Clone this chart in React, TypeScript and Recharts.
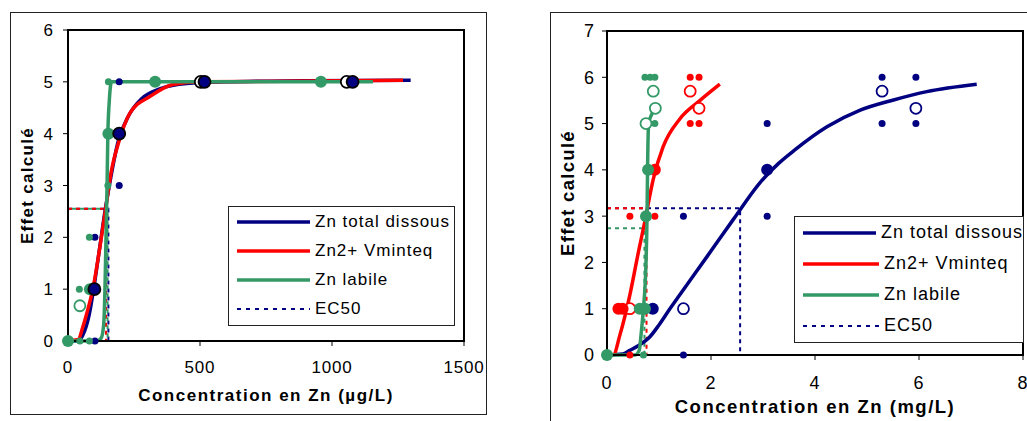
import * as React from 'react';
import {
  ComposedChart,
  XAxis,
  YAxis,
  Line,
  Scatter,
  Legend,
  ReferenceArea,
} from 'recharts';

const FONT = '"Liberation Sans", Arial, sans-serif';
const NAVY = '#000080';
const RED = '#ff0000';
const GREEN = '#339966';

type P = { x: number; y: number };
const pts = (a: number[][]): P[] => a.map(([x, y]) => ({ x, y }));

// ---- left panel (µg/L) ----
const leftXTicks = [0, 500, 1000, 1500];
const leftYTicks = [0, 1, 2, 3, 4, 5, 6];

const leftTotalCurve = pts([[0, 0], [40, 0], [55, 0.1], [80, 0.5], [100, 1.1], [120, 1.8], [140, 2.5], [160, 3.1], [190, 3.85], [230, 4.35], [280, 4.68], [350, 4.87], [450, 4.97], [600, 5.0], [900, 5.02], [1298, 5.03]]);
const leftVminteqCurve = pts([[0, 0], [39, 0.03], [55, 0.25], [71, 0.53], [96, 1.05], [121, 1.82], [140, 2.46], [165, 3.3], [190, 3.8], [235, 4.4], [311, 4.72], [398, 4.95], [500, 5.0], [1269, 5.03]]);
const leftLabileCurve = pts([[0, 0], [108, 0], [125, 0.05], [135, 0.3], [140, 1.0], [144, 2.0], [148, 3.0], [151, 4.0], [156, 4.6], [165, 5.0], [300, 5.0], [700, 5.0], [1155, 5.0]]);

const leftTotalSmall = pts([[194, 5], [194, 3], [102, 2], [102, 0]]);
const leftTotalLarge = pts([[194, 4], [100, 1], [517, 5], [1078, 5]]);
const leftTotalOpen = pts([[503, 5], [1056, 5]]);
const leftLabileSmall = pts([[153, 5], [81, 2], [43, 1], [45, 0], [81, 0], [151, 3]]);
const leftLabileLarge = pts([[330, 5], [153, 4], [83, 1], [958, 5], [0, 0]]);
const leftLabileOpen = pts([[45, 0.68]]);

const leftEc50Total = pts([[0, 2.55], [153, 2.55], [153, 0]]);
const leftEc50Vminteq = pts([[0, 2.55], [144, 2.55], [144, 0]]);
const leftEc50Labile = pts([[0, 2.55], [150, 2.55], [150, 0]]);

// ---- right panel (mg/L) ----
const rightXTicks = [0, 2, 4, 6, 8];
const rightYTicks = [0, 1, 2, 3, 4, 5, 6, 7];

const rightTotalCurve = pts([[0, 0], [0.3, 0.02], [0.44, 0.1], [0.6, 0.2], [0.83, 0.4], [1.0, 0.65], [1.21, 1.0], [1.5, 1.46], [1.92, 2.12], [2.43, 2.93], [2.94, 3.72], [3.3, 4.14], [3.6, 4.42], [4.23, 4.93], [4.87, 5.29], [5.51, 5.51], [6.15, 5.69], [7.11, 5.85]]);
const rightVminteqCurve = pts([[0, 0], [0.12, 0], [0.25, 0.44], [0.44, 1.3], [0.6, 2.2], [0.73, 2.9], [0.89, 3.8], [1.08, 4.5], [1.4, 5.1], [1.79, 5.5], [2.17, 5.85]]);
const rightLabileCurve = pts([[0, 0], [0.54, 0], [0.62, 0.1], [0.66, 0.5], [0.7, 1.0], [0.75, 2.0], [0.77, 3.0], [0.78, 4.0], [0.8, 5.0], [0.86, 5.2], [0.92, 5.35]]);

const rightTotalSmall = pts([[1.47, 0], [1.47, 3], [3.08, 5], [3.08, 3], [5.29, 6], [5.29, 5], [5.94, 6], [5.94, 5]]);
const rightTotalLarge = pts([[0.88, 1], [3.08, 4]]);
const rightTotalOpen = pts([[1.47, 1], [5.29, 5.7], [5.94, 5.33]]);
const rightVminteqSmall = pts([[0.44, 3], [0.92, 3], [1.6, 6], [1.77, 6], [1.6, 5], [1.77, 5], [0.44, 0]]);
const rightVminteqLarge = pts([[0.22, 1], [0.3, 1], [0.92, 4]]);
const rightVminteqOpen = pts([[0.44, 1], [1.6, 5.7], [1.77, 5.33]]);
const rightLabileSmall = pts([[0.73, 6], [0.83, 6], [0.92, 6], [0.79, 5], [0.92, 5], [0.7, 0]]);
const rightLabileLarge = pts([[0, 0], [0.63, 1], [0.73, 1], [0.75, 3], [0.79, 4]]);
const rightLabileOpen = pts([[0.89, 5.7], [0.75, 5], [0.93, 5.33]]);

const rightEc50Total = pts([[0, 3.17], [2.56, 3.17], [2.56, 0]]);
const rightEc50Vminteq = pts([[0, 3.17], [0.76, 3.17], [0.76, 0]]);
const rightEc50Labile = pts([[0, 2.74], [0.72, 2.74], [0.72, 0]]);

const legendItems = [
  { label: 'Zn total dissous', color: NAVY, dash: '' },
  { label: 'Zn2+ Vminteq', color: RED, dash: '' },
  { label: 'Zn labile', color: GREEN, dash: '' },
  { label: 'EC50', color: NAVY, dash: '4 5' },
];

const dot = (r: number, fill: string, stroke: string, sw: number) => (p: any) =>
  <circle cx={p.cx} cy={p.cy} r={r} fill={fill} stroke={stroke} strokeWidth={sw} />;

function LegendBox({ w, h, rowH, lineW, fontSize }: any) {
  return (
    <div style={{ width: w, height: h, border: '1px solid #222', background: '#fff', boxSizing: 'border-box', fontFamily: FONT }}>
      {legendItems.map((it) => (
        <div key={it.label} style={{ height: rowH, display: 'flex', alignItems: 'center', paddingLeft: 8 }}>
          <svg width={lineW} height={6} style={{ display: 'block' }}>
            <line x1={0} y1={3} x2={lineW} y2={3} stroke={it.color} strokeWidth={it.dash ? 2 : 3.5} strokeDasharray={it.dash || undefined} />
          </svg>
          <span style={{ marginLeft: 5, fontSize, letterSpacing: 1, color: '#000', whiteSpace: 'nowrap' }}>{it.label}</span>
        </div>
      ))}
    </div>
  );
}

function Panel(props: any) {
  const { width, height, margin, yWidth, xDomain, yDomain, xTicks, yTicks, fs, titleFs, xTitle, xTitleOffset, yTitleOffset,
    xTickMargin, yTickMargin, curves, ec50, scatters, legend } = props;
  return (
    <ComposedChart width={width} height={height} margin={margin}>
      <XAxis dataKey="x" type="number" domain={xDomain} ticks={xTicks} interval={0}
        axisLine={{ stroke: '#000', strokeWidth: 2 }} tickLine={{ stroke: '#000' }} tickSize={5} tickMargin={xTickMargin}
        tick={{ fill: '#000', fontSize: fs, fontFamily: FONT, letterSpacing: 0.8 }} height={height - margin.top - (props.plotH)}
        label={{ value: xTitle, position: 'insideBottom', offset: xTitleOffset, fill: '#000', fontSize: titleFs, fontWeight: 'bold', fontFamily: FONT, letterSpacing: 1.5 }} />
      <YAxis dataKey="y" type="number" domain={yDomain} ticks={yTicks} interval={0} width={yWidth}
        axisLine={{ stroke: '#000', strokeWidth: 2 }} tickLine={{ stroke: '#000' }} tickSize={5} tickMargin={yTickMargin}
        tick={{ fill: '#000', fontSize: fs, fontFamily: FONT }}
        label={{ value: 'Effet calculé', angle: -90, position: 'insideLeft', offset: yTitleOffset, fill: '#000', fontSize: titleFs, fontWeight: 'bold', fontFamily: FONT, letterSpacing: 1.3, style: { textAnchor: 'middle' } }} />
      <ReferenceArea x1={xDomain[0]} x2={xDomain[1]} y1={yDomain[0]} y2={yDomain[1]} fill="none" stroke="#000" strokeWidth={2} fillOpacity={0} />
      {ec50.map((e: any, i: number) => (
        <Line key={'e' + i} data={e.data} dataKey="y" type="linear" stroke={e.color} strokeWidth={2} strokeDasharray="4 4" strokeDashoffset={e.offset}
          dot={false} activeDot={false} isAnimationActive={false} legendType="none" />
      ))}
      {curves.map((c: any, i: number) => (
        <Line key={'c' + i} data={c.data} dataKey="y" type="monotone" stroke={c.color} strokeWidth={3.5}
          dot={false} activeDot={false} isAnimationActive={false} legendType="none" />
      ))}
      {scatters.map((s: any, i: number) => (
        <Scatter key={'s' + i} data={s.data} dataKey="y" shape={s.shape} isAnimationActive={false} legendType="none" />
      ))}
      <Legend layout="vertical" align="center" verticalAlign="middle"
        wrapperStyle={{ left: legend.left, top: legend.top, width: legend.w, height: legend.h }}
        content={() => <LegendBox {...legend} />} />
    </ComposedChart>
  );
}

export default function App() {
  const leftCurves = [
    { data: leftTotalCurve, color: NAVY },
    { data: leftVminteqCurve, color: RED },
    { data: leftLabileCurve, color: GREEN },
  ];
  const leftEc50 = [
    { data: leftEc50Total, color: NAVY, offset: 0 },
    { data: leftEc50Vminteq, color: RED, offset: 0 },
    { data: leftEc50Labile, color: GREEN, offset: 4 },
  ];
  const leftScatters = [
    { data: leftTotalSmall, shape: dot(3.5, NAVY, NAVY, 0) },
    { data: leftLabileSmall, shape: dot(3.5, GREEN, GREEN, 0) },
    { data: leftLabileOpen, shape: dot(5.5, '#fff', GREEN, 1.8) },
    { data: leftLabileLarge, shape: dot(6, GREEN, GREEN, 0) },
    { data: leftTotalOpen, shape: dot(6, '#fff', '#000', 1.8) },
    { data: leftTotalLarge, shape: dot(6, NAVY, '#000', 1.8) },
  ];
  const rightCurves = [
    { data: rightTotalCurve, color: NAVY },
    { data: rightVminteqCurve, color: RED },
    { data: rightLabileCurve, color: GREEN },
  ];
  const rightEc50 = [
    { data: rightEc50Total, color: NAVY, offset: 0 },
    { data: rightEc50Vminteq, color: RED, offset: 0 },
    { data: rightEc50Labile, color: GREEN, offset: 0 },
  ];
  const rightScatters = [
    { data: rightTotalSmall, shape: dot(3.5, NAVY, NAVY, 0) },
    { data: rightTotalOpen, shape: dot(5.5, '#fff', NAVY, 1.8) },
    { data: rightTotalLarge, shape: dot(6, NAVY, NAVY, 0) },
    { data: rightVminteqSmall, shape: dot(3.5, RED, RED, 0) },
    { data: rightVminteqOpen, shape: dot(5.5, '#fff', RED, 1.8) },
    { data: rightVminteqLarge, shape: dot(6, RED, RED, 0) },
    { data: rightLabileSmall, shape: dot(3.5, GREEN, GREEN, 0) },
    { data: rightLabileOpen, shape: dot(5.5, '#fff', GREEN, 1.8) },
    { data: rightLabileLarge, shape: dot(6, GREEN, GREEN, 0) },
  ];

  return (
    <div style={{ position: 'absolute', left: 0, top: 0, width: 1027, height: 421, overflow: 'hidden', background: '#fff', fontFamily: FONT }}>
      <div style={{ position: 'absolute', left: 10, top: 12, width: 477, height: 403, border: '1px solid #222', boxSizing: 'border-box' }} />
      <div style={{ position: 'absolute', left: 550, top: 12, width: 600, height: 500, border: '1px solid #222', boxSizing: 'border-box' }} />
      <div style={{ position: 'absolute', left: 0, top: 0 }}>
        <Panel width={487} height={421} margin={{ top: 30, right: 23, left: 10, bottom: 0 }} plotH={311} yWidth={58}
          xDomain={[0, 1500]} yDomain={[0, 6]} xTicks={leftXTicks} yTicks={leftYTicks} fs={17} titleFs={17}
          xTitle="Concentration en Zn (µg/L)" xTitleOffset={20} yTitleOffset={17} xTickMargin={15} yTickMargin={10}
          curves={leftCurves} ec50={leftEc50} scatters={leftScatters}
          legend={{ left: 228, top: 206, w: 227, h: 120, rowH: 29, lineW: 73, fontSize: 17 }} />
      </div>
      <div style={{ position: 'absolute', left: 540, top: 0 }}>
        <Panel width={520} height={421} margin={{ top: 31, right: 37, left: 10, bottom: 0 }} plotH={324} yWidth={57}
          xDomain={[0, 8]} yDomain={[0, 7]} xTicks={rightXTicks} yTicks={rightYTicks} fs={18} titleFs={18.5}
          xTitle="Concentration en Zn (mg/L)" xTitleOffset={8} yTitleOffset={17} xTickMargin={16} yTickMargin={8}
          curves={rightCurves} ec50={rightEc50} scatters={rightScatters}
          legend={{ left: 254, top: 216, w: 230, h: 127, rowH: 31, lineW: 76, fontSize: 18 }} />
      </div>
    </div>
  );
}
